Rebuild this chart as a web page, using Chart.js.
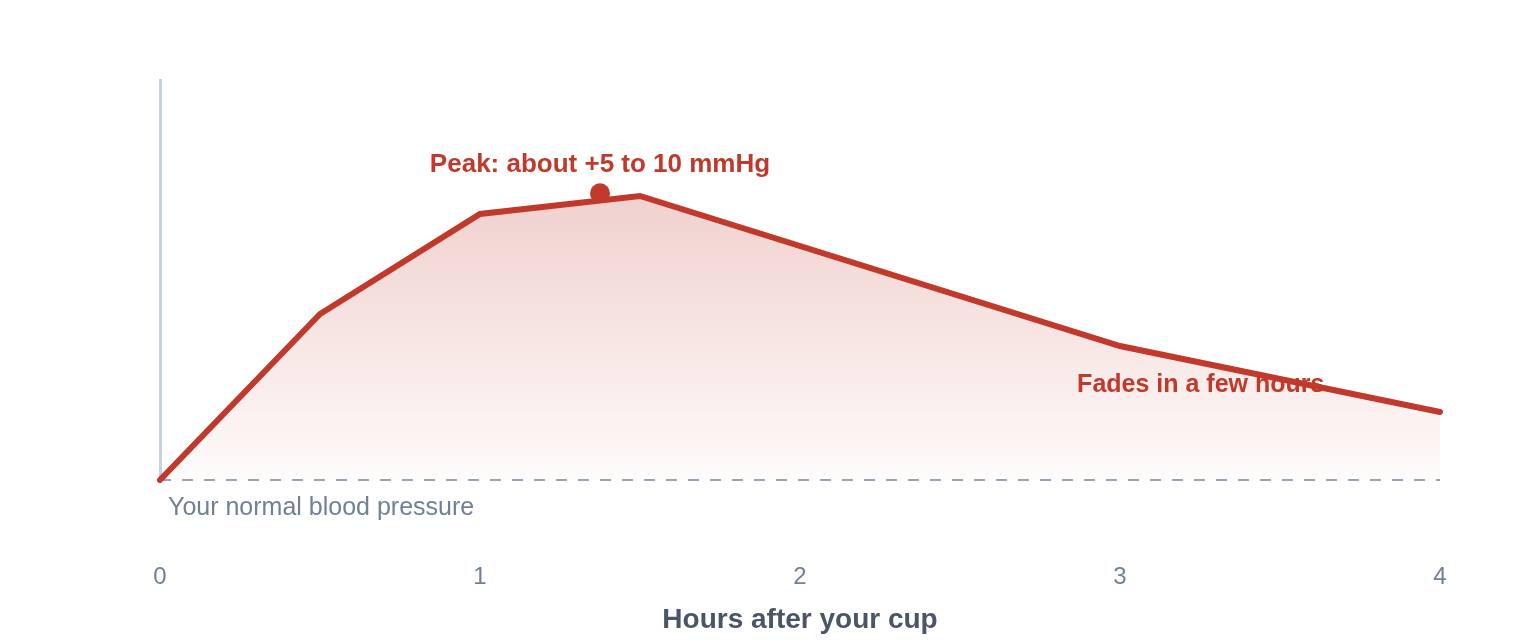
<!DOCTYPE html>
<html>
<head>
<meta charset="utf-8">
<script src="https://cdn.jsdelivr.net/npm/chart.js@4"></script>
<style>
  html, body { margin: 0; padding: 0; background: #fff; }
  #wrap { width: 1520px; height: 640px; position: relative; }
</style>
</head>
<body>
<div id="wrap"><canvas id="bpChart"></canvas></div>
<script>
const hours = [0, 0.5, 1, 1.5, 3, 4];
const rise = [0, 4.15, 6.65, 7.1, 3.35, 1.7];
const peakPoint = [{ x: 1.375, y: 7.17 }];
const xTicks = [0, 1, 2, 3, 4];

const RED = "#c0392b";
const FONT = "'Liberation Sans', Arial, Helvetica, sans-serif";

// notes drawn on the plot, anchored in data units
const notes = [
  { text: "Peak: about +5 to 10 mmHg", x: 1.375, y: 7.88, align: "center", color: RED, font: "bold 26px " + FONT },
  { text: "Fades in a few hours", x: 2.866, y: 2.37, align: "left", color: RED, font: "bold 25px " + FONT },
  { text: "Your normal blood pressure", x: 0.025, y: -0.7, align: "left", color: "#718096", font: "25px " + FONT }
];

const baselinePlugin = {
  id: "baseline",
  beforeDatasetsDraw(chart) {
    const { ctx, chartArea, scales } = chart;
    const y = scales.y.getPixelForValue(0);
    ctx.save();
    ctx.strokeStyle = "#9ca3b6";
    ctx.lineWidth = 2;
    ctx.setLineDash([11, 11]);
    ctx.beginPath();
    ctx.moveTo(chartArea.left, y);
    ctx.lineTo(chartArea.right, y);
    ctx.stroke();
    ctx.setLineDash([]);
    ctx.textBaseline = "middle";
    notes.forEach((n) => {
      ctx.font = n.font;
      ctx.fillStyle = n.color;
      ctx.textAlign = n.align;
      ctx.fillText(n.text, scales.x.getPixelForValue(n.x), scales.y.getPixelForValue(n.y));
    });
    ctx.restore();
  }
};

function fillGradient(context) {
  const { chart } = context;
  const area = chart.chartArea;
  if (!area) return "rgba(192,57,43,0.15)";
  const g = chart.ctx.createLinearGradient(0, area.top, 0, area.bottom);
  g.addColorStop(0, "rgba(192,57,43,0.32)");
  g.addColorStop(1, "rgba(192,57,43,0.02)");
  return g;
}

new Chart(document.getElementById("bpChart"), {
  type: "line",
  data: {
    datasets: [
      {
        data: peakPoint,
        showLine: false,
        pointRadius: 10,
        pointBackgroundColor: RED,
        pointBorderWidth: 0,
        order: 0
      },
      {
        data: hours.map((h, i) => ({ x: h, y: rise[i] })),
        borderColor: RED,
        borderWidth: 6,
        borderCapStyle: "round",
        pointRadius: 0,
        fill: "origin",
        backgroundColor: fillGradient,
        tension: 0,
        clip: false,
        order: 1
      }
    ]
  },
  options: {
    responsive: true,
    maintainAspectRatio: false,
    animation: false,
    layout: { padding: { top: 80, left: 160, right: 80, bottom: 0 } },
    plugins: { legend: { display: false }, tooltip: { enabled: false } },
    scales: {
      x: {
        type: "linear",
        min: 0,
        max: 4,
        afterBuildTicks: (axis) => { axis.ticks = xTicks.map((v) => ({ value: v })); },
        afterFit: (axis) => {
          axis.height = 160;
          axis.paddingLeft = 0;
          axis.paddingRight = 0;
        },
        grid: { display: false, drawTicks: false },
        border: { display: false },
        ticks: { color: "#718096", font: { family: FONT, size: 24 }, padding: 83 },
        title: {
          display: true,
          text: "Hours after your cup",
          color: "#4a5568",
          font: { family: FONT, size: 28, weight: "bold" },
          padding: { top: 12, bottom: 3 }
        }
      },
      y: {
        min: 0,
        max: 10,
        grid: { display: false, drawTicks: false },
        border: { display: true, color: "#c8d2dc", width: 3 },
        ticks: { display: false }
      }
    }
  },
  plugins: [baselinePlugin]
});
</script>
</body>
</html>
